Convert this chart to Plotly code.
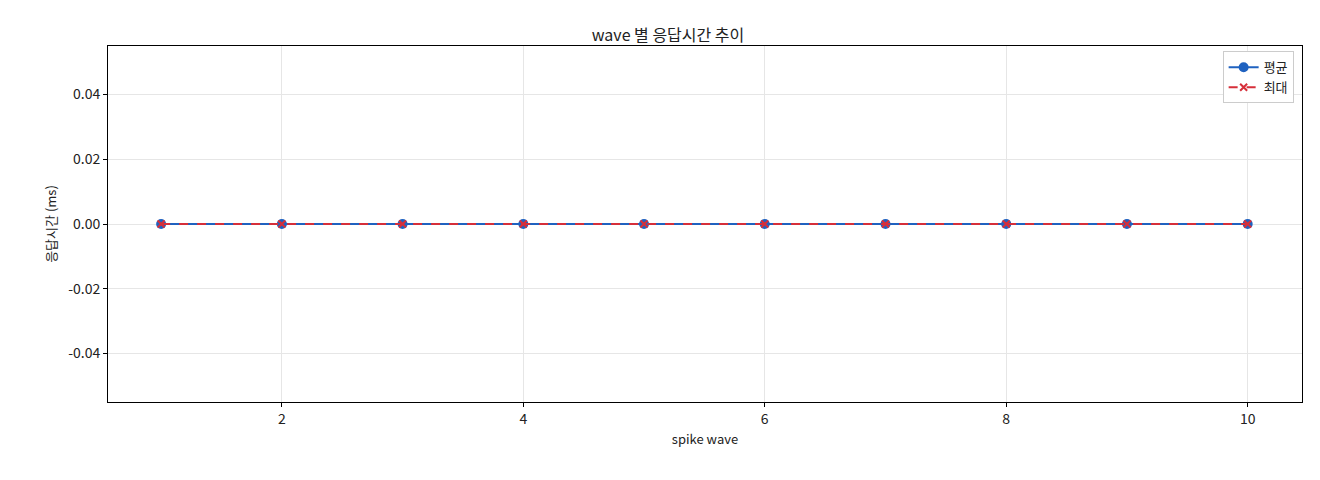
import plotly.graph_objects as go

waves = [1, 2, 3, 4, 5, 6, 7, 8, 9, 10]
avg_ms = [0, 0, 0, 0, 0, 0, 0, 0, 0, 0]
max_ms = [0, 0, 0, 0, 0, 0, 0, 0, 0, 0]
y_ticks = [-0.04, -0.02, 0, 0.02, 0.04]
y_tick_labels = ['-0.04', '-0.02', '0.00', '0.02', '0.04']

fig = go.Figure()
fig.add_trace(go.Scatter(
    x=waves, y=avg_ms, mode='lines+markers', name='평균',
    line=dict(color='#1f62c0', width=2),
    marker=dict(symbol='circle', size=10, color='#1f62c0')))
fig.add_trace(go.Scatter(
    x=waves, y=max_ms, mode='lines+markers', name='최대',
    line=dict(color='#d62f3a', width=2, dash='dash'),
    marker=dict(symbol='x-thin', size=7, color='#d62f3a',
                line=dict(color='#d62f3a', width=2))))

axis_style = dict(
    showline=True, linecolor='black', linewidth=1, mirror=True,
    showgrid=True, gridcolor='#e6e6e6', zeroline=False,
    ticks='outside', ticklen=4, tickcolor='black',
    tickfont=dict(size=14, color='#222'))

fig.update_layout(
    width=1320, height=480,
    paper_bgcolor='white', plot_bgcolor='white',
    font=dict(family='Noto Sans CJK KR, Noto Sans, sans-serif', color='#222'),
    title=dict(text='wave 별 응답시간 추이', x=0.5, y=0.955, xanchor='center',
               font=dict(size=16)),
    margin=dict(l=100, r=26, t=38, b=86),
    legend=dict(x=0.993, y=0.985, xanchor='right', yanchor='top',
                bordercolor='#cccccc', borderwidth=1, bgcolor='white',
                font=dict(size=13)),
    xaxis=dict(axis_style, range=[0.56, 10.45], tickvals=[2, 4, 6, 8, 10],
               title=dict(text='spike wave', font=dict(size=13), standoff=8)),
    yaxis=dict(axis_style, range=[-0.055, 0.055],
               tickvals=y_ticks, ticktext=y_tick_labels,
               title=dict(text='응답시간 (ms)', font=dict(size=13), standoff=8)),
)

fig.write_html("out.html")
